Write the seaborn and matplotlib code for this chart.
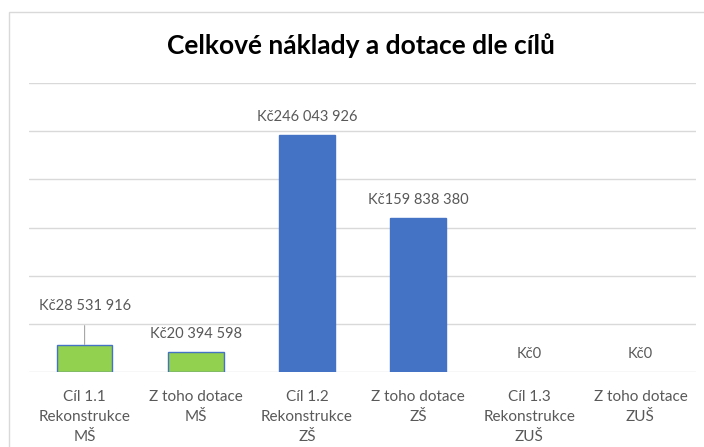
import matplotlib
matplotlib.use("Agg")
import matplotlib.pyplot as plt
import seaborn as sns
from matplotlib.patches import Rectangle

# Data
categories = ["Cíl 1.1\nRekonstrukce\nMŠ", "Z toho dotace\nMŠ",
              "Cíl 1.2\nRekonstrukce\nZŠ", "Z toho dotace\nZŠ",
              "Cíl 1.3\nRekonstrukce\nZUŠ", "Z toho dotace\nZUŠ"]
values = [28531916, 20394598, 246043926, 159838380, 0, 0]
bar_colors = ["#92D050", "#92D050", "#4472C4", "#4472C4", "#4472C4", "#4472C4"]
title = "Celkové náklady a dotace dle cílů"

sns.set_theme(style="white")
plt.rcParams["font.family"] = ["Lato", "DejaVu Sans"]

fig = plt.figure(figsize=(7.04, 4.47), dpi=100)
ax = fig.add_axes([0.0412, 0.1678, 0.9474, 0.6465])

# light chart-area frame
fig.patches.append(Rectangle((9 / 704, -0.1), 1.1, 1 - 12 / 447 + 0.1,
                             transform=fig.transFigure, fill=False,
                             edgecolor="#D9D9D9", linewidth=1, zorder=0))

sns.barplot(x=categories, y=values, hue=categories, palette=bar_colors,
            legend=False, width=0.5, edgecolor="#4472C4", linewidth=1,
            saturation=1, ax=ax, zorder=3)
# zero bars leave no visible edge
for p in ax.patches:
    if p.get_height() == 0:
        p.set_linewidth(0)

ax.set_ylim(0, 300_000_000)
ax.set_xlim(-0.5, len(categories) - 0.5)
ax.set_yticks(range(0, 300_000_001, 50_000_000))
ax.yaxis.grid(True, color="#D9D9D9", linewidth=1)
ax.set_yticklabels([])
ax.tick_params(axis="y", length=0)
ax.tick_params(axis="x", length=0, labelsize=11, labelcolor="#595959", pad=13)
for lbl in ax.get_xticklabels():
    lbl.set_linespacing(1.55)
for s in ax.spines.values():
    s.set_visible(False)
ax.set_xlabel("")
ax.set_ylabel("")

def fmt(v):
    return "Kč" + f"{v:,}".replace(",", " ")

for i, v in enumerate(values):
    if i == 0:
        # label pulled up with a leader line
        ax.annotate(fmt(v), xy=(i, v), xytext=(0, 28), textcoords="offset points",
                    ha="center", va="center", fontsize=10.5, color="#595959",
                    arrowprops=dict(arrowstyle="-", color="#A6A6A6", lw=0.8,
                                    shrinkA=7, shrinkB=0))
    else:
        ax.annotate(fmt(v), xy=(i, v), xytext=(0, 13), textcoords="offset points",
                    ha="center", va="center", fontsize=10.5, color="#595959")

fig.text(0.513, 0.897, title, ha="center", va="center", fontsize=19,
         fontweight="bold", color="#000000")

fig.savefig("out.png", dpi=100)
